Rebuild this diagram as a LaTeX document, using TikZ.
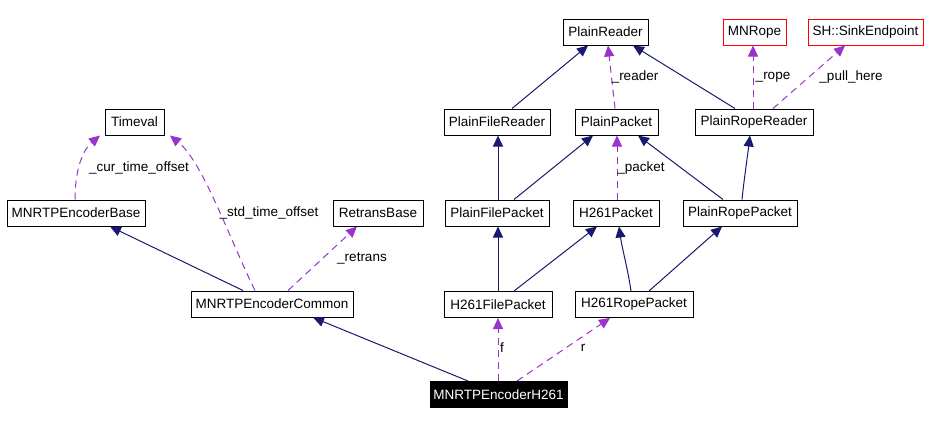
\documentclass[tikz,border=0pt]{standalone}
\usepackage{fontspec}
\setmainfont{Liberation Sans}
\usetikzlibrary{arrows.meta}
\definecolor{navyc}{HTML}{191970}
\definecolor{purplec}{HTML}{9A32CD}
\definecolor{redc}{HTML}{FF0000}
\tikzset{
  cls/.style={draw=black, line width=1pt, rectangle, inner sep=0pt, minimum height=26pt, font=\fontsize{13.5}{16}\selectfont, text=black, fill=white},
  extcls/.style={cls, draw=redc},
  selcls/.style={cls, fill=black, text=white},
  inh/.style={draw=navyc, line width=1pt, -{Triangle[length=11pt,width=10pt]}, color=navyc},
  use/.style={draw=purplec, line width=1pt, dash pattern=on 7pt off 5pt, -{Triangle[length=11pt,width=10pt]}, color=purplec},
  lbl/.style={font=\fontsize{13.5}{16}\selectfont, inner sep=0pt, text=black}
}
\begin{document}
\begin{tikzpicture}[x=1pt,y=-1pt]
\useasboundingbox[fill=white] (0,0) rectangle (936,424);
% nodes
\node[cls, minimum width=59pt] (timeval) at (134.5,122) {Timeval};
\node[cls, minimum width=138pt] (base) at (76,213) {MNRTPEncoderBase};
\node[cls, minimum width=90pt] (retrans) at (378,213) {RetransBase};
\node[cls, minimum width=162pt] (common) at (272,304) {MNRTPEncoderCommon};
\node[cls, minimum width=85pt] (preader) at (605.5,32) {PlainReader};
\node[extcls, minimum width=63pt] (mnrope) at (754.5,32) {MNRope};
\node[extcls, minimum width=115pt] (sink) at (865.5,32) {SH::SinkEndpoint};
\node[cls, minimum width=106pt] (pfreader) at (497,122) {PlainFileReader};
\node[cls, minimum width=83pt] (ppacket) at (616.5,122) {PlainPacket};
\node[cls, minimum width=118pt] (prreader) at (754,122) {PlainRopeReader};
\node[cls, minimum width=104pt] (pfpacket) at (497,213) {PlainFilePacket};
\node[cls, minimum width=86pt] (hpacket) at (616,213) {H261Packet};
\node[cls, minimum width=114pt] (prpacket) at (740,213) {PlainRopePacket};
\node[cls, minimum width=108pt] (hfpacket) at (498,304.5) {H261FilePacket};
\node[cls, minimum width=118pt] (hrpacket) at (634,304.5) {H261RopePacket};
\node[selcls, minimum width=137pt] (h261) at (498.5,394.5) {MNRTPEncoderH261};
% connectors
\draw[use] ([xshift=-1pt]base.north) .. controls (75,165) and (85,148) .. ([xshift=-34.5pt]timeval.south);
\draw[use] ([xshift=-17pt]common.north) .. controls (230,240) and (203,162) .. ([xshift=35.5pt]timeval.south);
\draw[use] ([xshift=16pt]common.north) -- ([xshift=-21pt]retrans.south);
\draw[inh] ([xshift=-29pt]common.north) -- ([xshift=34pt]base.south);
\draw[inh] ([xshift=-30.5pt]h261.north) -- ([xshift=41pt]common.south);
\draw[inh] ([xshift=15pt]pfreader.north) -- ([xshift=-17.5pt]preader.south);
\draw[use] ([xshift=-1.5pt]ppacket.north) -- ([xshift=2.5pt]preader.south);
\draw[inh] ([xshift=-19pt]prreader.north) -- ([xshift=27.5pt]preader.south);
\draw[use] ([xshift=-1pt]prreader.north) -- ([xshift=-1.5pt]mnrope.south);
\draw[use] ([xshift=19pt]prreader.north) -- ([xshift=-20.5pt]sink.south);
\draw[inh] ([xshift=1pt]pfpacket.north) -- ([xshift=1pt]pfreader.south);
\draw[inh] ([xshift=17pt]pfpacket.north) -- ([xshift=-23.5pt]ppacket.south);
\draw[use] ([xshift=1pt]hpacket.north) -- ([xshift=0.5pt]ppacket.south);
\draw[inh] ([xshift=-17pt]prpacket.north) -- ([xshift=21.5pt]ppacket.south);
\draw[inh] ([xshift=2pt]prpacket.north) .. controls (744,180) and (747,160) .. ([xshift=-4pt]prreader.south);
\draw[inh] (hfpacket.north) -- ([xshift=1pt]pfpacket.south);
\draw[inh] ([xshift=16pt]hfpacket.north) -- ([xshift=-19pt]hpacket.south);
\draw[inh] ([xshift=-3pt]hrpacket.north) .. controls (628,270) and (622,248) .. ([xshift=3pt]hpacket.south);
\draw[inh] ([xshift=15pt]hrpacket.north) -- ([xshift=-18pt]prpacket.south);
\draw[use] ([xshift=-0.5pt]h261.north) -- (hfpacket.south);
\draw[use] ([xshift=18.5pt]h261.north) -- ([xshift=-24pt]hrpacket.south);
% labels
\node[lbl] (l1) at (139,168) {\_cur\_time\_offset};
\node[lbl] (l2) at (269,213) {\_std\_time\_offset};
\node[lbl] (l3) at (362,258) {\_retrans};
\node[lbl] (l4) at (635,77) {\_reader};
\node[lbl] (l5) at (773,77) {\_rope};
\node[lbl] (l6) at (851,77) {\_pull\_here};
\node[lbl] (l7) at (641,168) {\_packet};
\node[lbl] (l8) at (502,348) {f};
\node[lbl] (l9) at (583,348) {r};
\end{tikzpicture}
\end{document}
